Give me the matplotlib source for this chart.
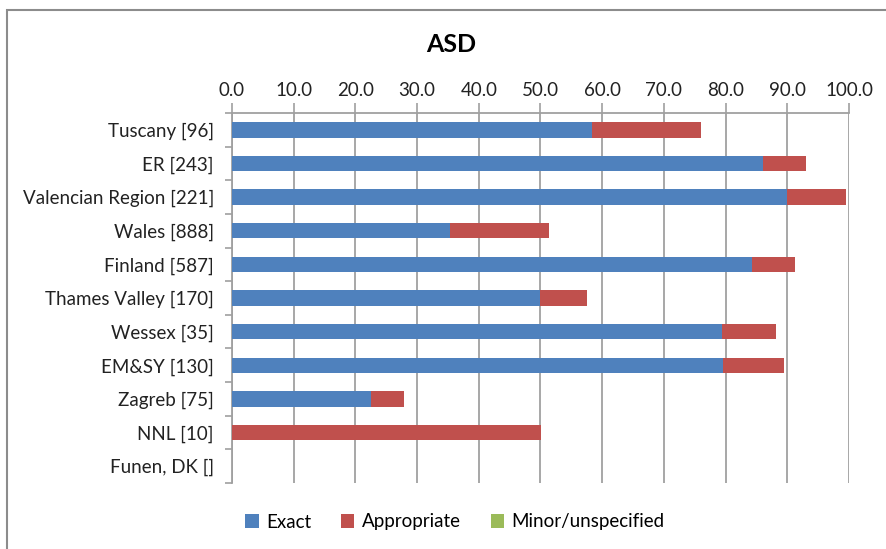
import matplotlib.pyplot as plt
from matplotlib.patches import Rectangle

plt.rcParams['font.family'] = ['Lato', 'DejaVu Sans']

# Regions with number of cases, top to bottom
regions = ["Tuscany [96]", "ER [243]", "Valencian Region [221]", "Wales [888]",
           "Finland [587]", "Thames Valley [170]", "Wessex [35]", "EM&SY [130]",
           "Zagreb [75]", "NNL [10]", "Funen, DK []"]
exact = [58.4, 86.0, 90.0, 35.3, 84.3, 50.0, 79.4, 79.6, 22.5, 0.0, 0.0]
appropriate = [17.6, 7.0, 9.5, 16.0, 7.0, 7.5, 8.8, 9.8, 5.4, 50.0, 0.0]
minor = [0.0] * 11

xticks = [0, 10, 20, 30, 40, 50, 60, 70, 80, 90, 100]

blue = "#4F81BD"
red = "#C0504D"
green = "#9BBB59"
grid_grey = "#A0A0A0"

fig = plt.figure(figsize=(8.87, 5.49), dpi=100)
W, H = 887, 549
ax = fig.add_axes([232 / W, 1 - 483 / H, (849 - 232) / W, (483 - 113) / H])

ypos = list(range(len(regions)))
left2 = [e + a for e, a in zip(exact, appropriate)]
ax.barh(ypos, exact, height=0.46, color=blue, label="Exact", zorder=3)
ax.barh(ypos, appropriate, left=exact, height=0.46, color=red, label="Appropriate", zorder=3)
ax.barh(ypos, minor, left=left2, height=0.46, color=green, label="Minor/unspecified", zorder=3)

ax.set_ylim(len(regions) - 0.5, -0.5)
ax.set_xlim(0, 100)
ax.set_yticks(ypos)
ax.set_yticklabels(regions, fontsize=13.5)
ax.set_yticks([i - 0.5 for i in range(len(regions) + 1)], minor=True)
ax.tick_params(axis='y', which='major', length=0, pad=13, colors='#222222')
ax.tick_params(axis='y', which='minor', length=5, width=1.2, color=grid_grey)

ax.xaxis.tick_top()
ax.set_xticks(xticks)
ax.set_xticklabels([f"{v:.1f}" for v in xticks], fontsize=13.5)
ax.tick_params(axis='x', length=7, width=1.2, pad=3, colors='#222222')
ax.tick_params(axis='x', color=grid_grey)
ax.grid(axis='x', color=grid_grey, linewidth=1.3, zorder=0)

for side in ['right', 'bottom']:
    ax.spines[side].set_visible(False)
ax.spines['top'].set_color(grid_grey)
ax.spines['top'].set_linewidth(1.3)
ax.spines['left'].set_color(grid_grey)
ax.spines['left'].set_linewidth(1.3)

fig.text(451 / W, 1 - 45 / H, "ASD", ha='center', va='center', fontsize=18, fontweight='bold')

fig.legend(loc='center', bbox_to_anchor=(455 / W, 1 - 522 / H), ncol=3, frameon=False,
           fontsize=13.5, handlelength=0.7, handleheight=0.7, columnspacing=1.6, handletextpad=0.4)

# chart area border
fig.patches.append(Rectangle((7 / W, -0.1), 1.1, 1 - 10 / H + 0.1, transform=fig.transFigure,
                             fill=False, edgecolor='#8C8C8C', linewidth=1.5))

fig.savefig("out.png", dpi=100)
